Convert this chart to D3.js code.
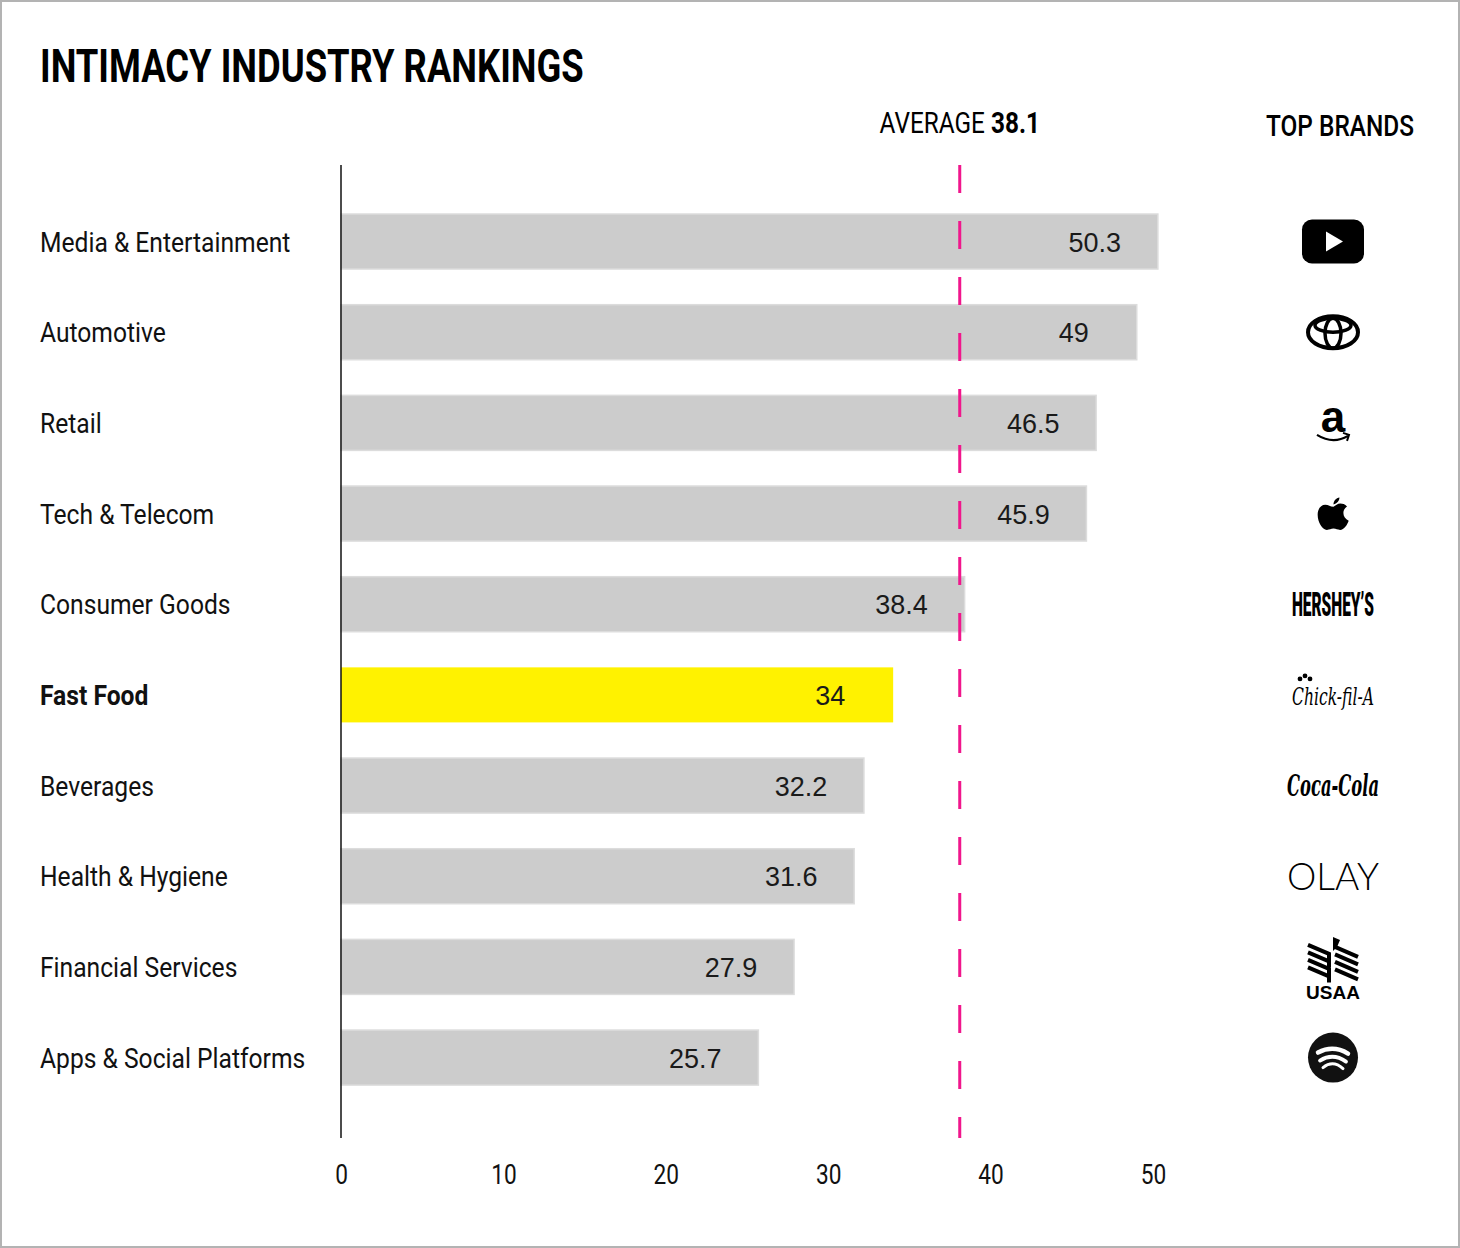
<!DOCTYPE html>
<html>
<head>
<meta charset="utf-8">
<script src="https://cdn.jsdelivr.net/npm/d3@7"></script>
<style>
  html, body { margin: 0; padding: 0; background: #fff; }
  svg { display: block; }
  .cond { font-family: Roboto, 'Liberation Sans', sans-serif; }
  .plain { font-family: 'Liberation Sans', Arial, sans-serif; }
</style>
</head>
<body>
<svg id="chart"></svg>
<script>
const categories = ['Media & Entertainment', 'Automotive', 'Retail', 'Tech & Telecom', 'Consumer Goods',
  'Fast Food', 'Beverages', 'Health & Hygiene', 'Financial Services', 'Apps & Social Platforms']
const values = [50.3, 49, 46.5, 45.9, 38.4, 34, 32.2, 31.6, 27.9, 25.7]
const brands = ['YouTube', 'Toyota', 'Amazon', 'Apple', "Hershey's", 'Chick-fil-A', 'Coca-Cola', 'Olay', 'USAA', 'Spotify']
const highlight = 'Fast Food'
const average = 38.1
const xTicks = [0, 10, 20, 30, 40, 50]

const W = 1460
const H = 1248
const K = 0.84 // squeeze for the condensed look
const svg = d3.select('#chart').attr('width', W).attr('height', H)

// squeeze a text horizontally around its anchor point
const squeeze = (sel, k) => {
  sel.each(function () {
    const t = d3.select(this)
    const x0 = +t.attr('x') || 0
    const y0 = +t.attr('y') || 0
    t.attr('x', 0).attr('y', 0).attr('transform', `translate(${x0},${y0}) scale(${k},1)`)
  })
}

// fit a text to a given width, anchored at its x
const fit = (sel, w) => {
  const n = sel.node()
  const k = w / n.getComputedTextLength()
  squeeze(sel, k)
}

svg.append('rect')
  .attr('x', 1).attr('y', 1).attr('width', W - 2).attr('height', H - 2)
  .attr('fill', '#fff').attr('stroke', '#b3b3b3').attr('stroke-width', 2)

const x = d3.scaleLinear().domain([0, 50]).range([341, 1153])
const y = d3.scaleBand()
  .domain(categories)
  .range([196.2, 1102.9])
  .paddingInner(0.393)
  .paddingOuter(0.1965)

const data = categories.map((c, i) => ({ cat: c, value: values[i], brand: brands[i] }))

// title
svg.append('text')
  .attr('class', 'cond')
  .attr('x', 40).attr('y', 82)
  .attr('font-size', 47).attr('font-weight', 700)
  .attr('fill', '#000')
  .text('INTIMACY INDUSTRY RANKINGS')
  .call(fit, 544)

svg.append('text')
  .attr('class', 'cond')
  .attr('x', 1266).attr('y', 136)
  .attr('font-size', 29).attr('font-weight', 500)
  .attr('fill', '#000')
  .text('TOP BRANDS')
  .call(fit, 148)

// bars
svg.append('g').selectAll('rect')
  .data(data)
  .join('rect')
  .attr('x', x(0))
  .attr('y', d => y(d.cat))
  .attr('width', d => x(d.value) - x(0))
  .attr('height', y.bandwidth())
  .attr('fill', d => d.cat === highlight ? '#fff200' : '#cccccc')
  .attr('stroke', d => d.cat === highlight ? 'none' : '#dcdcdc')
  .attr('stroke-width', 1.5)

// value labels
svg.append('g').selectAll('text')
  .data(data)
  .join('text')
  .attr('class', 'plain')
  .attr('x', d => x(d.value) - 63)
  .attr('y', d => y(d.cat) + y.bandwidth() / 2 + 10)
  .attr('text-anchor', 'middle')
  .attr('font-size', 27)
  .attr('fill', '#1a1a1a')
  .text(d => d.value)

// category labels
const catLabels = svg.append('g').selectAll('text')
  .data(data)
  .join('text')
  .attr('class', 'cond')
  .attr('x', 40)
  .attr('y', d => y(d.cat) + y.bandwidth() / 2 + 10)
  .attr('font-size', 28)
  .attr('font-weight', d => d.cat === highlight ? 700 : 400)
  .attr('fill', '#111')
  .text(d => d.cat)
squeeze(catLabels, 0.88)

// zero line
svg.append('line')
  .attr('x1', x(0)).attr('x2', x(0))
  .attr('y1', 165).attr('y2', 1138)
  .attr('stroke', '#111').attr('stroke-width', 1.5)

// average line
svg.append('line')
  .attr('x1', x(average)).attr('x2', x(average))
  .attr('y1', 165).attr('y2', 1138)
  .attr('stroke', '#f0168c').attr('stroke-width', 3)
  .attr('stroke-dasharray', '28,28')

const avgLabel = svg.append('text')
  .attr('class', 'cond')
  .attr('x', x(average)).attr('y', 133)
  .attr('text-anchor', 'middle')
  .attr('font-size', 29)
  .attr('fill', '#000')
avgLabel.append('tspan').text('AVERAGE ')
avgLabel.append('tspan').attr('font-weight', 700).text(average)
squeeze(avgLabel, K)

// x axis
const axis = svg.append('g')
  .attr('transform', 'translate(0,1160)')
  .call(d3.axisBottom(x).tickValues(xTicks).tickSize(0).tickPadding(0))
axis.select('.domain').remove()
axis.selectAll('text')
  .attr('font-family', 'Roboto, sans-serif')
  .attr('font-size', 27)
  .attr('fill', '#111')
  .attr('dy', '0.9em')
  .attr('transform', `scale(${K},1)`)

// brand logos
const logoX = 1333
const logos = svg.append('g').selectAll('g')
  .data(data)
  .join('g')
  .attr('transform', d => `translate(${logoX},${y(d.cat) + y.bandwidth() / 2})`)

logos.each(function (d) {
  const g = d3.select(this)
  if (d.brand === 'YouTube') {
    g.append('rect').attr('x', -31).attr('y', -22).attr('width', 62).attr('height', 44)
      .attr('rx', 10).attr('fill', '#000')
    g.append('path').attr('d', 'M-7,-10 L10,0 L-7,10 Z').attr('fill', '#fff')
  } else if (d.brand === 'Toyota') {
    g.append('ellipse').attr('rx', 25).attr('ry', 16).attr('fill', 'none').attr('stroke', '#000').attr('stroke-width', 4)
    g.append('ellipse').attr('cx', 0).attr('cy', 1).attr('rx', 8).attr('ry', 15).attr('fill', 'none').attr('stroke', '#000').attr('stroke-width', 3.5)
    g.append('ellipse').attr('cx', 0).attr('cy', -7).attr('rx', 18).attr('ry', 7).attr('fill', 'none').attr('stroke', '#000').attr('stroke-width', 3.5)
  } else if (d.brand === 'Amazon') {
    g.append('text').attr('class', 'plain').attr('y', 9).attr('text-anchor', 'middle')
      .attr('font-size', 44).attr('font-weight', 700).attr('fill', '#000').text('a')
    g.append('path').attr('d', 'M-16,12 Q0,22 15,13').attr('fill', 'none').attr('stroke', '#000').attr('stroke-width', 2.2)
    g.append('path').attr('d', 'M10,10 L16,12 L14,18').attr('fill', 'none').attr('stroke', '#000').attr('stroke-width', 2)
  } else if (d.brand === 'Apple') {
    g.append('path')
      .attr('transform', 'translate(-16,-16) scale(0.33)')
      .attr('d', 'M50,28 C40,28 35,22 25,22 C12,22 2,34 2,52 C2,74 16,98 30,98 C38,98 42,94 50,94 C58,94 62,98 70,98 C82,98 92,82 96,70 C86,66 80,57 80,47 C80,38 85,31 91,27 C85,20 77,18 71,18 C62,18 56,24 50,28 Z M50,21 C50,10 58,2 68,0 C68,10 60,19 50,21 Z')
      .attr('fill', '#000')
  } else if (d.brand === "Hershey's") {
    g.append('text').attr('class', 'cond').attr('x', -41).attr('y', 12)
      .attr('font-size', 34).attr('font-weight', 900).attr('fill', '#000')
      .text('HERSHEY’S')
      .call(fit, 82)
  } else if (d.brand === 'Chick-fil-A') {
    g.append('text').attr('x', -41).attr('y', 10)
      .attr('font-family', "'DejaVu Serif', serif").attr('font-style', 'italic')
      .attr('font-size', 24).attr('fill', '#000')
      .text('Chick-fil-A')
      .call(fit, 82)
    g.selectAll('circle').data([0, 1, 2]).join('circle')
      .attr('cx', i => -33 + i * 5).attr('cy', i => i === 1 ? -19 : -16).attr('r', 2.4).attr('fill', '#000')
  } else if (d.brand === 'Coca-Cola') {
    g.append('text').attr('x', -46).attr('y', 10)
      .attr('font-family', "'DejaVu Serif', serif").attr('font-style', 'italic').attr('font-weight', 700)
      .attr('font-size', 30).attr('fill', '#000')
      .text('Coca-Cola')
      .call(fit, 92)
  } else if (d.brand === 'Olay') {
    g.append('text').attr('x', -46).attr('y', 14)
      .attr('font-family', 'Lato, sans-serif').attr('font-weight', 300)
      .attr('font-size', 38).attr('fill', '#000')
      .text('OLAY')
      .call(fit, 92)
  } else if (d.brand === 'USAA') {
    const stripes = g.append('g').attr('fill', 'none').attr('stroke', '#000').attr('stroke-width', 4)
    for (let i = 0; i < 4; i++) {
      stripes.append('path').attr('d', `M-25,${-22 + i * 7.5} L-4,${-13 + i * 7.5} L-4,${-7 + i * 7.5}`)
      stripes.append('path').attr('d', `M2,${-20 + i * 7.5} L25,${-10 + i * 7.5}`)
    }
    g.append('path').attr('d', 'M0,-30 L7,-27 L4,-20 L0,-16 Z').attr('fill', '#000')
    g.append('text').attr('class', 'plain').attr('y', 32).attr('text-anchor', 'middle')
      .attr('font-size', 19).attr('font-weight', 700).attr('fill', '#000').text('USAA')
  } else if (d.brand === 'Spotify') {
    g.append('circle').attr('r', 25).attr('fill', '#111')
    const arcs = [[-15, -5, 15, 4.5], [-13, 3, 13, 3.8], [-10, 10, 10, 3]]
    arcs.forEach(a => {
      g.append('path')
        .attr('d', `M${a[0]},${a[1]} Q0,${a[1] - 8} ${a[2]},${a[1] + 1}`)
        .attr('fill', 'none').attr('stroke', '#fff').attr('stroke-width', a[3]).attr('stroke-linecap', 'round')
    })
  }
})
</script>
</body>
</html>
